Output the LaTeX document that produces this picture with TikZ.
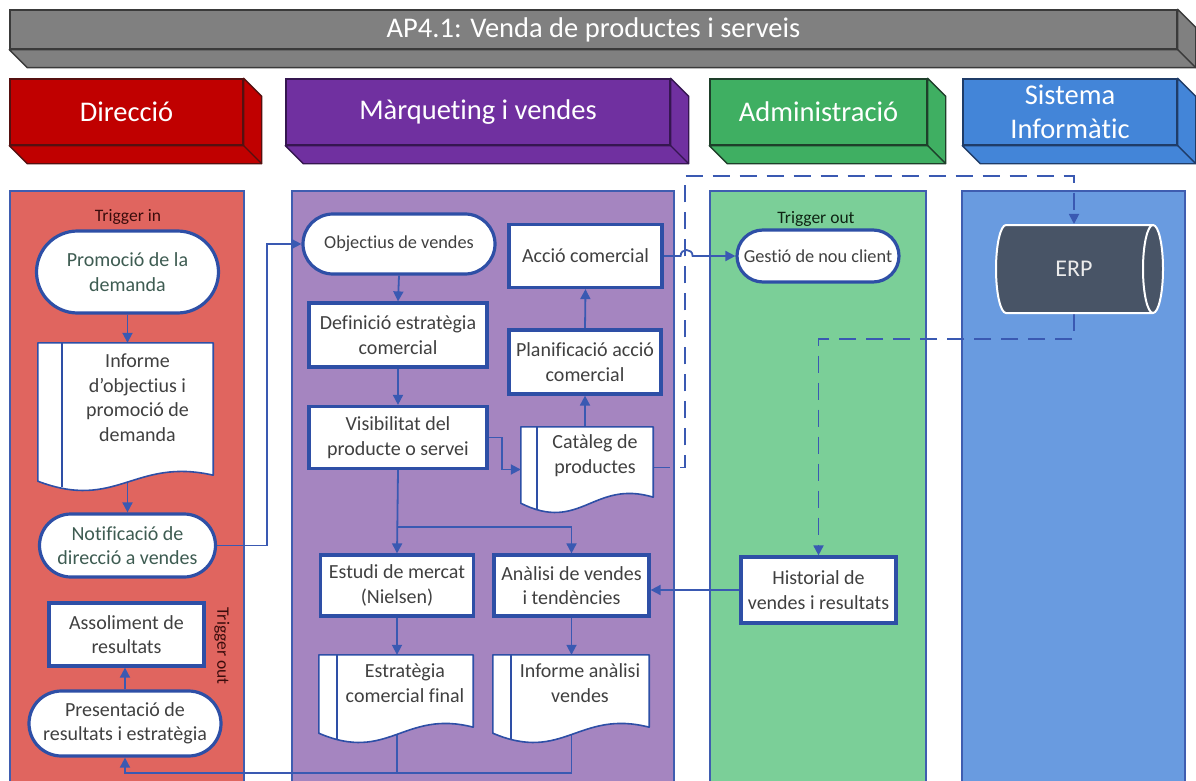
\documentclass[tikz,border=0pt]{standalone}
\usepackage{fontspec}
\setmainfont{Carlito}[Ligatures={NoCommon,NoDiscretionary,NoRare}]
\usetikzlibrary{shapes.misc,shapes.geometric,calc,arrows.meta}

\definecolor{bannerfill}{HTML}{808080}
\definecolor{banneredge}{HTML}{3A3A3A}
\definecolor{dirhead}{HTML}{C00000}
\definecolor{diredge}{HTML}{551010}
\definecolor{mkthead}{HTML}{7030A0}
\definecolor{mktedge}{HTML}{351650}
\definecolor{admhead}{HTML}{3FAF62}
\definecolor{admedge}{HTML}{1E3F2A}
\definecolor{sishead}{HTML}{4385D8}
\definecolor{sisedge}{HTML}{1F3C68}
\definecolor{dirlane}{HTML}{E0655F}
\definecolor{mktlane}{HTML}{A585C0}
\definecolor{admlane}{HTML}{7BCF98}
\definecolor{sislane}{HTML}{699BE0}
\definecolor{laneedge}{HTML}{3F5DB0}
\definecolor{boxedge}{HTML}{2E4FA6}
\definecolor{linkblue}{HTML}{3A59B2}
\definecolor{txtgray}{HTML}{404040}
\definecolor{txtteal}{HTML}{3E5C52}
\definecolor{trigred}{HTML}{3A0C0C}
\definecolor{triggreen}{HTML}{0F2414}
\definecolor{erpfill}{HTML}{485466}

\newcommand{\boxfont}{\fontsize{20}{24.5}\selectfont}
\newcommand{\smallboxfont}{\fontsize{18.3}{22}\selectfont}
\newcommand{\headfont}{\fontsize{28.5}{34}\selectfont}
\newcommand{\trigfont}{\fontsize{17.5}{20}\selectfont}

\pgfdeclarelayer{lanes}
\pgfdeclarelayer{links}
\pgfdeclarelayer{shapes}
\pgfsetlayers{lanes,links,shapes,main}

\tikzset{
  lane/.style={draw=laneedge, line width=1.3pt},
  head/.style={text=white, font=\headfont, align=center, inner sep=0pt, line width=1.4pt},
  proc/.style={draw=boxedge, line width=3.2pt, fill=white, text=txtgray, align=center,
               inner sep=0pt, font=\boxfont},
  term/.style={proc, rounded rectangle},
  doctext/.style={text=txtgray, align=center, inner sep=0pt, font=\boxfont},
  docedge/.style={draw=boxedge, line width=1.6pt, fill=white, line join=round},
  link/.style={draw=linkblue, line width=1.8pt},
  flow/.style={link, -{Triangle[length=10pt,width=10pt]}},
  dflow/.style={flow, dash pattern=on 17pt off 10pt},
  trig/.style={font=\trigfont, inner sep=0pt},
}

% 3D slab behind a header face: right and bottom faces
\newcommand{\slab}[3]{%
  \begin{pgfonlayer}{lanes}
    \filldraw[fill=#2, draw=#3, line width=1.4pt, line join=round]
      (#1.south west) -- ++(18,18) -| ($(#1.north east)+(18,18)$)
      -- (#1.north east) -- (#1.south east) -- cycle;
    \draw[#3, line width=1.4pt] (#1.south east) -- ++(18,18);
  \end{pgfonlayer}}

% document outline with wavy bottom and an inner left stripe around a text node
\newcommand{\docoutline}[3]{%
  \coordinate (#1-tl) at ($(#1.north west)+(-#2,0)$);
  \coordinate (#1-br) at ($(#1.south east)+(0,#3)$);
  \coordinate (#1-bl) at (#1-tl |- #1-br);
  \coordinate (#1-w) at (#1-tl |- #1.center);
  \begin{pgfonlayer}{shapes}
    \draw[docedge] (#1-tl) -- (#1.north east) -- (#1-br)
      .. controls ($(#1-bl)!0.55!(#1-br)+(0,-18)$) and ($(#1-bl)!0.45!(#1-br)+(0,36)$)
      .. ($(#1-bl)+(0,6)$) -- cycle;
    \draw[docedge, fill=none] (#1.north west) -- ($(#1.north west |- #1-br)+(0,12)$);
  \end{pgfonlayer}}

\begin{document}
\begin{tikzpicture}[x=1pt,y=-1pt]
\useasboundingbox (0,0) rectangle (1196,781);

% ---------- swimlanes ----------
\begin{pgfonlayer}{lanes}
  \fill[white] (0,0) rectangle (1196,781);
  \draw[lane, fill=dirlane] (10,191) rectangle (244,795);
  \draw[lane, fill=mktlane] (292,191) rectangle (674,795);
  \draw[lane, fill=admlane] (710,191) rectangle (926,795);
  \draw[lane, fill=sislane] (962,191) rectangle (1185,795);
\end{pgfonlayer}

% ---------- title and lane headers ----------
\node[head, fill=bannerfill, draw=banneredge, minimum width=1167, minimum height=39]
  (banner) at (593.5,29.5) {AP4.1: Venda de productes i serveis};
\slab{banner}{bannerfill}{banneredge}

\node[head, fill=dirhead, draw=diredge, minimum width=233, minimum height=66]
  (hdir) at (126.5,112) {Direcció};
\slab{hdir}{dirhead}{diredge}
\node[head, fill=mkthead, draw=mktedge, minimum width=384, minimum height=66]
  (hmkt) at (478,112) {Màrqueting i vendes};
\slab{hmkt}{mkthead}{mktedge}
\node[head, fill=admhead, draw=admedge, minimum width=217, minimum height=66]
  (hadm) at (818.5,112) {Administració};
\slab{hadm}{admhead}{admedge}
\node[head, fill=sishead, draw=sisedge, minimum width=214, minimum height=66]
  (hsis) at (1070,112) {Sistema\\Informàtic};
\slab{hsis}{sishead}{sisedge}

% ---------- Direcció ----------
\node[trig, text=trigred] (tin) at (128,217) {Trigger in};
\node[term, text=txtteal, minimum width=182, minimum height=82] (prom) at (127.5,272)
  {Promoció de la\\demanda};
\node[doctext, minimum width=151, minimum height=109] (inf) at (137.5,397.5)
  {Informe\\d’objectius i\\promoció de\\demanda};
\docoutline{inf}{24}{23}
\node[term, text=txtteal, minimum width=176, minimum height=63] (notif) at (127.5,545.5)
  {Notificació de\\direcció a vendes};
\node[proc, minimum width=155, minimum height=63] (asso) at (126.5,634.5)
  {Assoliment de\\resultats};
\node[trig, text=trigred, rotate=-90] (tout) at (222,646) {Trigger out};
\node[term, minimum width=192, minimum height=65] (pres) at (125,723.5)
  {Presentació de\\resultats i estratègia};

% ---------- Màrqueting i vendes ----------
\node[term, font=\smallboxfont, minimum width=192, minimum height=60] (obj) at (399,244)
  {Objectius de vendes};
\node[proc, minimum width=178, minimum height=64] (def) at (398,335)
  {Definició estratègia\\comercial};
\node[proc, minimum width=178, minimum height=62] (vis) at (398,437.5)
  {Visibilitat del\\producte o servei};
\node[proc, minimum width=153, minimum height=63] (acc) at (585.5,256)
  {Acció comercial};
\node[proc, minimum width=152, minimum height=64] (plan) at (585,362)
  {Planificació acció\\comercial};
\node[doctext, minimum width=116, minimum height=57] (cat) at (595,455.5)
  {Catàleg de\\productes};
\docoutline{cat}{16}{13}
\node[proc, minimum width=153, minimum height=61] (est) at (397,585.5)
  {Estudi de mercat\\(Nielsen)};
\node[proc, minimum width=155, minimum height=61] (anal) at (571.5,585.5)
  {Anàlisi de vendes\\i tendències};
\node[doctext, minimum width=136, minimum height=56] (estr) at (405,683)
  {Estratègia\\comercial final};
\docoutline{estr}{18}{16}
\node[doctext, minimum width=138, minimum height=56] (ian) at (580,683)
  {Informe anàlisi\\vendes};
\docoutline{ian}{18}{16}

% ---------- Administració ----------
\node[trig, text=triggreen] (tout2) at (816,219) {Trigger out};
\node[term, font=\smallboxfont, minimum width=162, minimum height=52] (gest) at (818,256)
  {Gestió de nou client};
\node[proc, minimum width=155, minimum height=66] (hist) at (818.5,590)
  {Historial de\\vendes i resultats};

% ---------- Sistema Informàtic ----------
\node[cylinder, aspect=1.3, draw=white, line width=2pt, fill=erpfill, text=white!92!black,
      font=\fontsize{24}{28}\selectfont, minimum width=88, minimum height=167,
      inner sep=0pt] (erp) at (1074,269) {ERP};

% ---------- connectors ----------
\begin{pgfonlayer}{links}
  \draw[flow] (prom.south) -- (prom.south |- inf.north);
  \draw[flow] (notif.north |- inf.south) -- (notif.north);
  \draw[flow] (notif.east) -- ++(50,0) |- (obj.west);
  \draw[flow] (pres.north) -- (pres.north |- asso.south);

  \draw[flow] (obj.south) -- (def.north);
  \draw[flow] (def.south) -- (vis.north);
  \draw[flow] (vis.east) -- ++(13,0) |- ($(cat-w)+(0,14)$);
  \draw[flow] (plan.south |- cat.north) -- (plan.south);
  \draw[flow] (plan.north) -- (acc.south);
  \coordinate (split) at (397,527);
  \draw[flow] (vis.south) -- (est.north);
  \draw[flow] (split) -| (anal.north);
  \draw[flow] (est.south) -- (est.south |- estr.north);
  \draw[flow] (anal.south) -- (anal.south |- ian.north);

  % jump over the dashed line on the way to the client lane
  \draw[flow] (acc.east) -- ($(acc.east)+(17,0)$)
    .. controls ($(acc.east)+(17,-8)$) and ($(acc.east)+(29,-8)$) .. ($(acc.east)+(29,0)$)
    -- (gest.west);

  \draw[flow] (hist.west) -- (hist.west -| anal.east);

  % results fed back to the management lane
  \coordinate (bus) at (125,773);
  \draw[flow] (anal.south |- ian.south) |- (bus) -- (pres.south);
  \draw[link] (est.south |- estr.south) -- (est.south |- bus);

  % data exchanged with the ERP
  \coordinate (dtop) at (685,176);
  \draw[dflow] ($(cat.east)+(0,12)$) -| (dtop) -| (erp.north);
  \draw[dflow] (erp.south) -- ++(0,25) -| (hist.north);
\end{pgfonlayer}
\end{tikzpicture}
\end{document}
